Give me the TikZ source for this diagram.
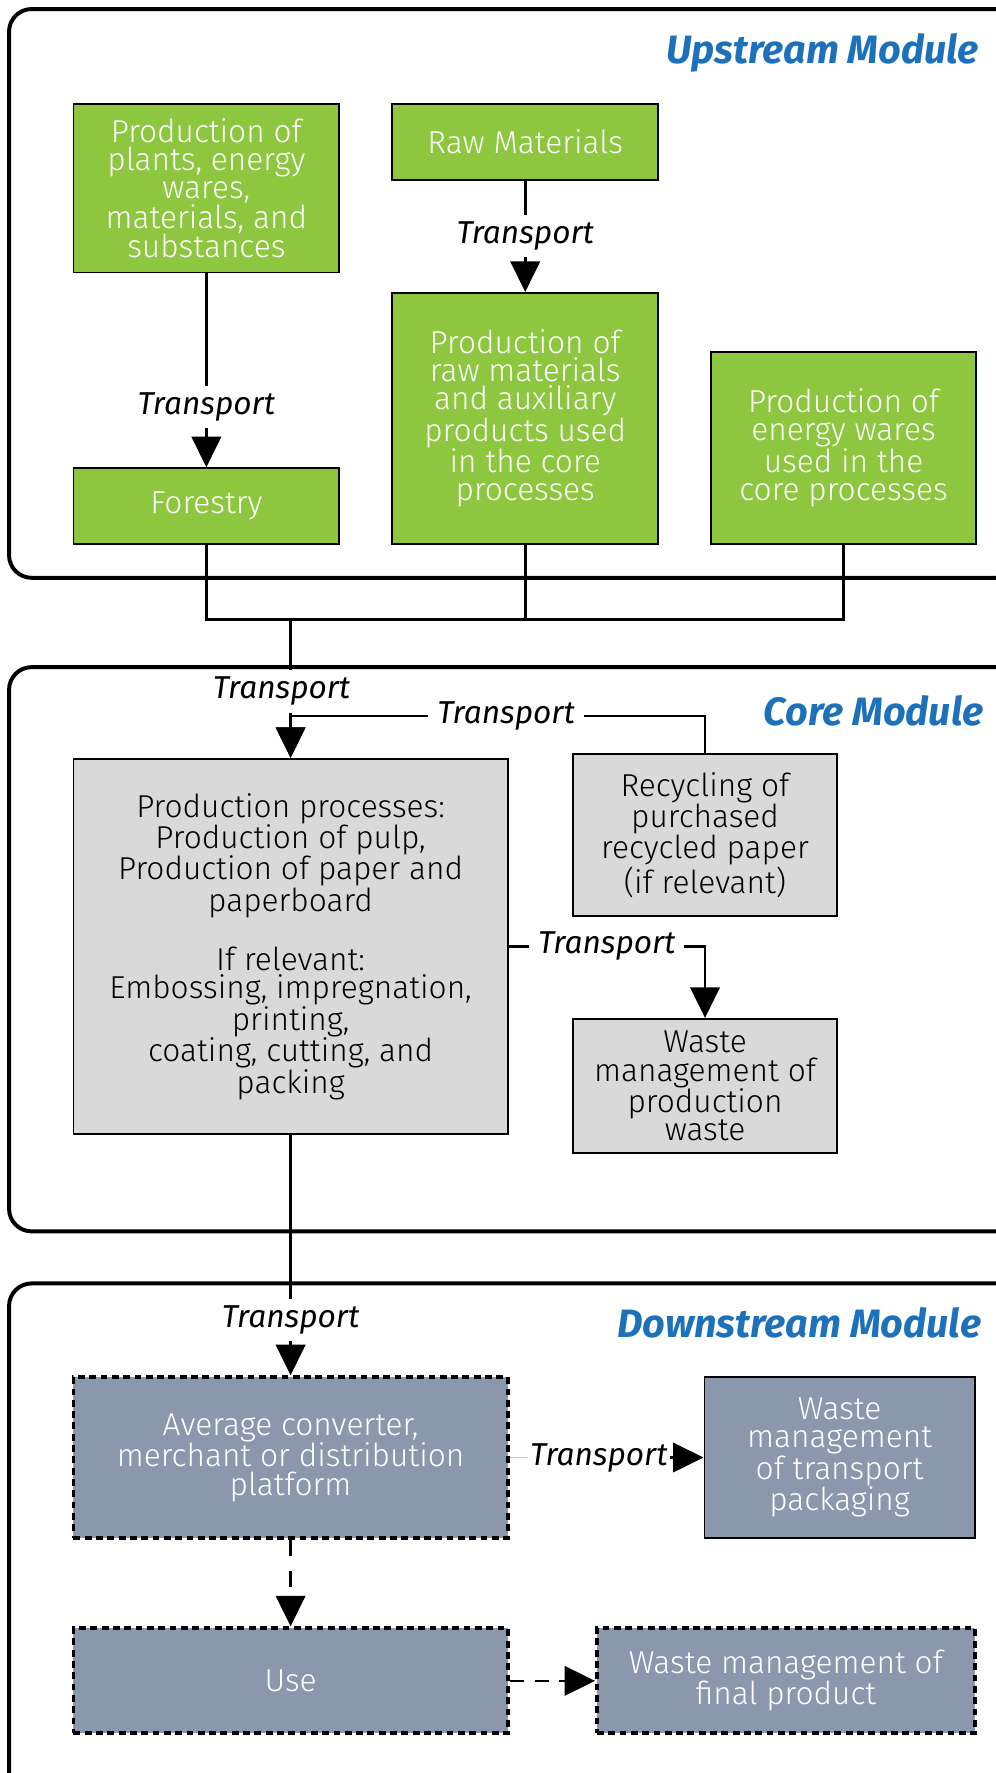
\documentclass[tikz,border=0pt]{standalone}
\usepackage{fontspec}
\setmainfont{Fira Sans}
\newfontfamily\leve{Fira Sans Light}
\usepackage{xcolor}
\usepackage{tikz}
\usetikzlibrary{arrows.meta, positioning, calc}
\definecolor{verde}{RGB}{141,198,63}
\definecolor{cinza}{RGB}{217,217,217}
\definecolor{ardosia}{RGB}{138,151,173}
\definecolor{azul}{RGB}{29,113,186}

\begin{document}
\begin{tikzpicture}[x=1pt, y=-1pt,
    modulo/.style={draw=black, line width=3.5pt, rounded corners=20pt},
    titulo/.style={anchor=east, inner sep=0pt, font=\fontsize{35}{38}\selectfont\bfseries\itshape, text=azul},
    caixa/.style={draw=black, line width=1.6pt, align=center, inner sep=0pt, font=\leve\fontsize{28}{25}\selectfont},
    caixaUp/.style={caixa, fill=verde, text=white},
    caixaCore/.style={caixa, fill=cinza, text=black},
    caixaDown/.style={caixa, fill=ardosia, text=white},
    tracejada/.style={dash pattern=on 6pt off 4pt, line width=3.5pt},
    linha/.style={line width=2.3pt},
    seta/.style={linha, -{Triangle[length=27pt, width=26pt]}},
    rotulo/.style={fill=white, inner xsep=8pt, inner ysep=6pt, font=\fontsize{28}{30}\selectfont\itshape}
  ]
    \useasboundingbox (0,0) rectangle (880,1568);
    \fill[white] (0,0) rectangle (880,1568);

    \node[titulo] (tUp) at (866,47) {Upstream Module};
    \node[caixaUp, minimum width=235pt, minimum height=149pt] (plantas) at (182.5,166.5) {Production of\\plants, energy\\wares,\\materials, and\\substances};
    \node[caixaUp, minimum width=235pt, minimum height=67pt] (brutos) at (464.5,125.5) {Raw Materials};
    \node[caixaUp, minimum width=235pt, minimum height=222pt] (materias) at (464.5,370) {Production of\\raw materials\\and auxiliary\\products used\\in the core\\processes};
    \node[caixaUp, minimum width=234pt, minimum height=170pt] (energia) at (746,396) {Production of\\energy wares\\used in the\\core processes};
    \node[caixaUp, minimum width=235pt, minimum height=67pt] (floresta) at (182.5,447.5) {Forestry};
    \draw[seta] (plantas.south) -- node[rotulo, pos=0.69] {Transport} (floresta.north);
    \draw[seta] (brutos.south) -- node[rotulo] {Transport} (materias.north);

    \coordinate (barra) at (257,548);
    \draw[linha] (floresta.south) |- (barra) -| (energia.south);
    \draw[linha] (materias.south) -- (materias.south |- barra);

    \node[titulo] (tCore) at (870,629) {Core Module};
    \node[caixaCore, minimum width=384pt, minimum height=332pt] (producao) at (257,837) {Production processes:\\Production of pulp,\\Production of paper and\\paperboard\\[25pt]If relevant:\\Embossing, impregnation,\\printing,\\coating, cutting, and\\packing};
    \node[caixaCore, minimum width=233pt, minimum height=143pt] (reciclagem) at (623.5,738.5) {Recycling of\\purchased\\recycled paper\\(if relevant)};
    \node[caixaCore, minimum width=233pt, minimum height=119pt] (residuos) at (623.5,960.5) {Waste\\management of\\production\\waste};
    \draw[seta] (barra) -- node[rotulo, pos=0.52, xshift=-8pt] {Transport} (producao.north);
    \draw[seta] (reciclagem.north) -- ++(0,-33) -| node[rotulo, pos=0.24] {Transport} (producao.north);
    \draw[seta] (producao.east) -| node[rotulo, pos=0.25] {Transport} (residuos.north);

    \node[titulo] (tDown) at (868,1170) {Downstream Module};
    \node[caixaDown, tracejada, minimum width=384pt, minimum height=142pt] (conversor) at (257,1289) {Average converter,\\merchant or distribution\\platform};
    \node[caixaDown, minimum width=239pt, minimum height=142pt] (embalagem) at (742.5,1289) {Waste\\management\\of transport\\packaging};
    \node[caixaDown, tracejada, minimum width=384pt, minimum height=93pt] (uso) at (257,1486.5) {Use};
    \node[caixaDown, tracejada, minimum width=334pt, minimum height=93pt] (final) at (695,1486.5) {Waste management of\\final product};
    \draw[seta] (producao.south) -- node[rotulo, pos=0.77] {Transport} (conversor.north);
    \node[rotulo, inner xsep=2pt] (rotEmb) at ($(conversor.east)!0.46!(embalagem.west)$) {Transport};
    \draw[gray!40, line width=1pt] (conversor.east) -- (rotEmb.west);
    \draw[seta] (rotEmb.east) -- (embalagem.west);
    \draw[seta, dash pattern=on 14pt off 14pt] (conversor.south) -- (uso.north);
    \draw[seta, dash pattern=on 13pt off 9pt] (uso.east) -- (final.west);

    \draw[modulo] (8,8) rectangle (900,511);
    \draw[modulo] (8,590) rectangle (900,1089);
    \draw[modulo] (8,1135) rectangle (900,1590);
  \end{tikzpicture}
\end{document}
